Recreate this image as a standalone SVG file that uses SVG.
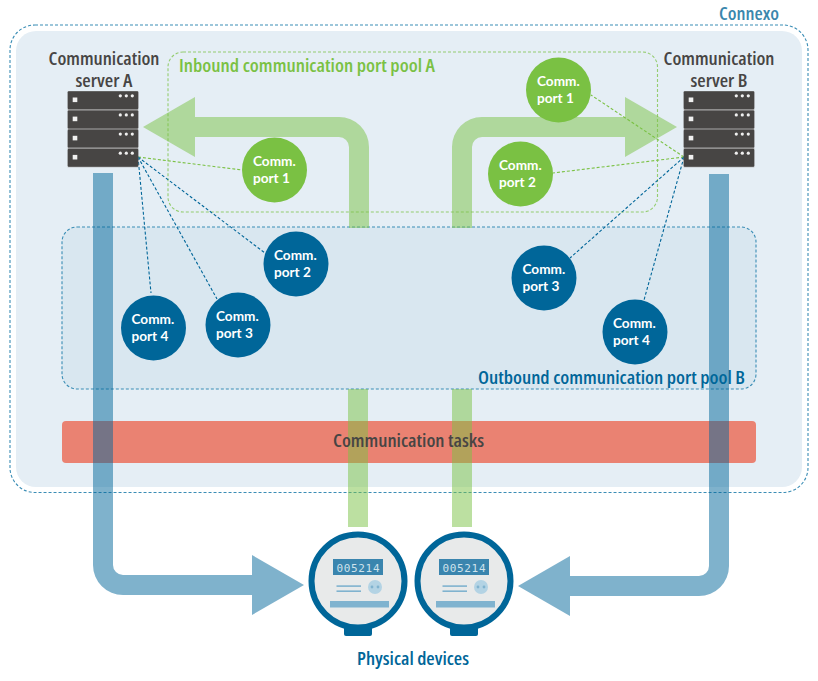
<svg xmlns="http://www.w3.org/2000/svg" xmlns:xlink="http://www.w3.org/1999/xlink" width="818" height="681" viewBox="0 0 818 681">
<style>
.h{font-family:"Open Sans","Liberation Sans",sans-serif;font-weight:650;font-size:17.3px;font-stretch:condensed}
.dk{fill:#474544}
.c{font-family:Lato,"Open Sans",sans-serif;font-weight:700;font-size:13.6px;fill:#fff}
.gc{fill:#7ac143}
.bc{fill:#006699}
.gl{fill:none;stroke:#7ac143;stroke-width:1.1;stroke-dasharray:3 2}
.bl{fill:none;stroke:#006699;stroke-width:1.1;stroke-dasharray:3 2}
.ga{fill:#7ac143;fill-opacity:.5}
.ba{fill:#006699;fill-opacity:.5}
.u{fill:#474544}
.w{fill:#f0f0f0}
</style>
<defs>
<g id="srv">
<rect x="0" y="0" width="70.6" height="76" fill="#a8a8a8"/>
<g id="unit"><rect class="u" x="0" y="0" width="70.6" height="18" rx="1.2"/><rect class="w" x="5" y="6.200" width="4.600" height="4.600"/><circle class="w" cx="52.600" cy="4.500" r="1.600"/><circle class="w" cx="58.600" cy="4.500" r="1.600"/><circle class="w" cx="64.600" cy="4.500" r="1.600"/></g>
<use xlink:href="#unit" href="#unit" y="19.100"/>
<use xlink:href="#unit" href="#unit" y="38.300"/>
<use xlink:href="#unit" href="#unit" y="57.400"/>
</g>
<g id="meter">
<rect x="-14" y="42" width="28" height="13" rx="2" fill="#006699"/>
<circle r="46.500" fill="#e8eaea" stroke="#006699" stroke-width="6"/>
<rect x="-25" y="-22" width="50" height="16" fill="#3a85ae"/>
<text x="-21.500" y="-9.500" textLength="43" font-family="'DejaVu Sans Mono','Liberation Mono',monospace" font-weight="300" font-size="11" fill="#cfe2ec">005214</text>
<rect x="-21.500" y="4.300" width="24.500" height="1.600" fill="#80b3cf"/>
<rect x="-21.500" y="9.400" width="24.500" height="1.600" fill="#80b3cf"/>
<circle cx="17" cy="6" r="7" fill="#b3d3e4"/><circle cx="14" cy="6" r="1.400" fill="#80b3cf"/><circle cx="20" cy="6" r="1.400" fill="#80b3cf"/>
<rect x="-28" y="20" width="59" height="6.500" fill="#80b3cf"/>
</g>
</defs>
<rect id="bg" width="818" height="681" fill="#fff"/>
<g id="connexo">
<rect x="16" y="31" width="786" height="456" rx="20" fill="#e5eef5"/>
<rect x="10" y="25" width="798" height="467.500" rx="25" fill="none" stroke="#3a8db5" stroke-width="1.100" stroke-dasharray="3 2"/>
<text class="h" x="719" y="20" fill="#3a87ad" textLength="60" lengthAdjust="spacingAndGlyphs">Connexo</text>
</g>
<g id="pool-a">
<rect x="168" y="52" width="489.500" height="160" rx="15" fill="none" stroke="#7ac143" stroke-opacity=".75" stroke-width="1.100" stroke-dasharray="3 2"/>
</g>
<g id="pool-b">
<rect x="62" y="227" width="694" height="162" rx="15" fill="#d9e7f0" stroke="#3a8db5" stroke-width="1.100" stroke-dasharray="3 2"/>
</g>
<g id="tasks">
<rect x="62" y="421" width="694" height="42" rx="4" fill="#ea8272"/>
</g>
<g id="connectors">
<path class="ga" d="M349 228V147A10 10 0 0 0 339 137H195V157L143 127L195 97V117H339A30 30 0 0 1 369 147V228Z"/>
<path class="ga" d="M452 228V147A30 30 0 0 1 482 117H625V97L677 127L625 157V137H482A10 10 0 0 0 472 147V228Z"/>
<rect class="ga" x="348" y="389" width="20" height="138"/>
<rect class="ga" x="452" y="389" width="20" height="138"/>
<path class="ba" d="M93 173H113V565A10 10 0 0 0 123 575H252V555L304 585L252 615V595H123A30 30 0 0 1 93 565Z"/>
<path class="ba" d="M709 174H729V566A30 30 0 0 1 699 596H570V616L518 586L570 556V576H699A10 10 0 0 0 709 566Z"/>
<path class="gl" d="M138 157L242 170"/>
<path class="bl" d="M138 157L265 253"/>
<path class="bl" d="M138 157L217 299"/>
<path class="bl" d="M138 157L151 293"/>
<path class="gl" d="M684 157L591 95"/>
<path class="gl" d="M684 157L553 173"/>
<path class="bl" d="M684 157L570 258"/>
<path class="bl" d="M684 157L644 300"/>
</g>
<g id="server-a"><use xlink:href="#srv" href="#srv" x="67.700" y="91.300"/>
<text class="h dk" x="104" y="65" text-anchor="middle" textLength="111" lengthAdjust="spacingAndGlyphs">Communication</text>
<text class="h dk" x="104" y="86.500" text-anchor="middle" textLength="57" lengthAdjust="spacingAndGlyphs">server A</text></g>
<g id="server-b"><use xlink:href="#srv" href="#srv" x="683.700" y="91.300"/>
<text class="h dk" x="719" y="65" text-anchor="middle" textLength="111" lengthAdjust="spacingAndGlyphs">Communication</text>
<text class="h dk" x="719" y="86.500" text-anchor="middle" textLength="57" lengthAdjust="spacingAndGlyphs">server B</text></g>
<g id="a-port-1"><circle class="gc" cx="274.500" cy="170" r="32.500"/><text class="c" x="253" y="166">Comm.</text><text class="c" x="253" y="183">port 1</text></g>
<g id="a-port-2"><circle class="bc" cx="296" cy="264" r="32.500"/><text class="c" x="274" y="260">Comm.</text><text class="c" x="274" y="277">port 2</text></g>
<g id="a-port-3"><circle class="bc" cx="238" cy="325" r="32.500"/><text class="c" x="216" y="321">Comm.</text><text class="c" x="216" y="338">port 3</text></g>
<g id="a-port-4"><circle class="bc" cx="153.500" cy="328" r="32.500"/><text class="c" x="131.500" y="324">Comm.</text><text class="c" x="131.500" y="341">port 4</text></g>
<g id="b-port-1"><circle class="gc" cx="558.500" cy="90" r="32.500"/><text class="c" x="537" y="86">Comm.</text><text class="c" x="537" y="103">port 1</text></g>
<g id="b-port-2"><circle class="gc" cx="520.500" cy="174" r="32.500"/><text class="c" x="499" y="170">Comm.</text><text class="c" x="499" y="187">port 2</text></g>
<g id="b-port-3"><circle class="bc" cx="544" cy="278" r="32.500"/><text class="c" x="522.500" y="274">Comm.</text><text class="c" x="522.500" y="291">port 3</text></g>
<g id="b-port-4"><circle class="bc" cx="635" cy="332" r="32.500"/><text class="c" x="613" y="328">Comm.</text><text class="c" x="613" y="345">port 4</text></g>
<g id="labels">
<text class="h" x="179" y="72" fill="#7ac143" textLength="256" lengthAdjust="spacingAndGlyphs">Inbound communication port pool A</text>
<text class="h" x="478" y="384" fill="#006699" textLength="267" lengthAdjust="spacingAndGlyphs">Outbound communication port pool B</text>
<text class="h dk" x="333" y="447" textLength="151" lengthAdjust="spacingAndGlyphs">Communication tasks</text>
</g>
<g id="device-1"><use xlink:href="#meter" href="#meter" x="358" y="581"/></g>
<g id="device-2"><use xlink:href="#meter" href="#meter" x="464" y="581"/></g>
<text class="h" x="357" y="665" fill="#006699" textLength="112" lengthAdjust="spacingAndGlyphs">Physical devices</text>
</svg>
